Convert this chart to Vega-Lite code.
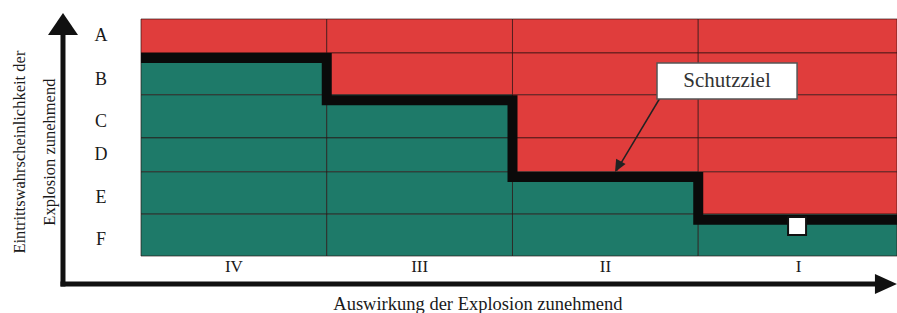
{
  "$schema": "https://vega.github.io/schema/vega-lite/v6.json",
  "width": 756,
  "height": 237,
  "autosize": {"type": "none"},
  "padding": {"left": 141, "top": 19, "right": 0, "bottom": 57},
  "background": "white",
  "config": {"view": {"stroke": null}},
  "datasets": {
    "cells": [
      {"spalte": "IV", "zeile": "A", "x": 0, "x2": 1, "y": 5.14, "y2": 6, "zone": "rot"},
      {"spalte": "IV", "zeile": "B", "x": 0, "x2": 1, "y": 4.08, "y2": 5.14, "zone": "grün"},
      {"spalte": "IV", "zeile": "C", "x": 0, "x2": 1, "y": 2.99, "y2": 4.08, "zone": "grün"},
      {"spalte": "IV", "zeile": "D", "x": 0, "x2": 1, "y": 2.13, "y2": 2.99, "zone": "grün"},
      {"spalte": "IV", "zeile": "E", "x": 0, "x2": 1, "y": 1.06, "y2": 2.13, "zone": "grün"},
      {"spalte": "IV", "zeile": "F", "x": 0, "x2": 1, "y": 0, "y2": 1.06, "zone": "grün"},
      {"spalte": "III", "zeile": "A", "x": 1, "x2": 2, "y": 5.14, "y2": 6, "zone": "rot"},
      {"spalte": "III", "zeile": "B", "x": 1, "x2": 2, "y": 4.08, "y2": 5.14, "zone": "rot"},
      {"spalte": "III", "zeile": "C", "x": 1, "x2": 2, "y": 2.99, "y2": 4.08, "zone": "grün"},
      {"spalte": "III", "zeile": "D", "x": 1, "x2": 2, "y": 2.13, "y2": 2.99, "zone": "grün"},
      {"spalte": "III", "zeile": "E", "x": 1, "x2": 2, "y": 1.06, "y2": 2.13, "zone": "grün"},
      {"spalte": "III", "zeile": "F", "x": 1, "x2": 2, "y": 0, "y2": 1.06, "zone": "grün"},
      {"spalte": "II", "zeile": "A", "x": 2, "x2": 3, "y": 5.14, "y2": 6, "zone": "rot"},
      {"spalte": "II", "zeile": "B", "x": 2, "x2": 3, "y": 4.08, "y2": 5.14, "zone": "rot"},
      {"spalte": "II", "zeile": "C", "x": 2, "x2": 3, "y": 2.99, "y2": 4.08, "zone": "rot"},
      {"spalte": "II", "zeile": "D", "x": 2, "x2": 3, "y": 2.13, "y2": 2.99, "zone": "rot"},
      {"spalte": "II", "zeile": "E", "x": 2, "x2": 3, "y": 1.06, "y2": 2.13, "zone": "grün"},
      {"spalte": "II", "zeile": "F", "x": 2, "x2": 3, "y": 0, "y2": 1.06, "zone": "grün"},
      {"spalte": "I", "zeile": "A", "x": 3, "x2": 4.07, "y": 5.14, "y2": 6, "zone": "rot"},
      {"spalte": "I", "zeile": "B", "x": 3, "x2": 4.07, "y": 4.08, "y2": 5.14, "zone": "rot"},
      {"spalte": "I", "zeile": "C", "x": 3, "x2": 4.07, "y": 2.99, "y2": 4.08, "zone": "rot"},
      {"spalte": "I", "zeile": "D", "x": 3, "x2": 4.07, "y": 2.13, "y2": 2.99, "zone": "rot"},
      {"spalte": "I", "zeile": "E", "x": 3, "x2": 4.07, "y": 1.06, "y2": 2.13, "zone": "rot"},
      {"spalte": "I", "zeile": "F", "x": 3, "x2": 4.07, "y": 0, "y2": 1.06, "zone": "grün"}
    ],
    "schutzziel": [
      {"i": 0, "x": 0, "y": 5.01},
      {"i": 1, "x": 1, "y": 5.01},
      {"i": 2, "x": 1, "y": 3.94},
      {"i": 3, "x": 2, "y": 3.94},
      {"i": 4, "x": 2, "y": 2.0},
      {"i": 5, "x": 3, "y": 2.0},
      {"i": 6, "x": 3, "y": 0.92},
      {"i": 7, "x": 4.07, "y": 0.92}
    ],
    "achsen": [
      {"achse": "y", "x": -0.42, "y": -0.71, "x2": -0.42, "y2": 5.75},
      {"achse": "x", "x": -0.42, "y": -0.71, "x2": 3.95, "y2": -0.71}
    ],
    "zeilen": [
      {"label": "A", "x": -0.215, "y": 5.57},
      {"label": "B", "x": -0.215, "y": 4.46},
      {"label": "C", "x": -0.215, "y": 3.39},
      {"label": "D", "x": -0.215, "y": 2.56},
      {"label": "E", "x": -0.215, "y": 1.47},
      {"label": "F", "x": -0.215, "y": 0.41}
    ],
    "spalten": [
      {"label": "IV", "x": 0.5, "y": -0.29},
      {"label": "III", "x": 1.5, "y": -0.29},
      {"label": "II", "x": 2.5, "y": -0.29},
      {"label": "I", "x": 3.54, "y": -0.29}
    ],
    "ytitel": [
      {"label": "Eintrittswahrscheinlichkeit der", "x": -0.651, "y": 2.63},
      {"label": "Explosion zunehmend", "x": -0.49, "y": 2.63}
    ],
    "xtitel": [
      {"label": "Auswirkung der Explosion zunehmend", "x": 1.814, "y": -1.215}
    ],
    "box": [
      {"x": 2.778, "x2": 3.532, "y": 4.886, "y2": 3.975, "label": "Schutzziel", "tx": 3.155, "ty": 4.43}
    ],
    "pfeil": [
      {"x": 2.794, "y": 4.0, "x2": 2.56, "y2": 2.16}
    ],
    "pfeilspitze": [
      {"x": 2.552, "y": 2.127}
    ],
    "punkt": [
      {"x": 3.532, "y": 0.759}
    ],
    "yspitze": [{"x": -0.42, "y": 5.772}],
    "xspitze": [{"x": 3.989, "y": -0.71}]
  },
  "encoding": {
    "x": {"field": "x", "type": "quantitative", "scale": {"domain": [0, 4.07], "zero": false, "nice": false}, "axis": null},
    "y": {"field": "y", "type": "quantitative", "scale": {"domain": [0, 6], "zero": false, "nice": false}, "axis": null}
  },
  "layer": [
    {
      "data": {"name": "cells"},
      "mark": {"type": "rect", "stroke": "#2a1010", "strokeWidth": 1, "strokeOpacity": 0.65},
      "encoding": {
        "x2": {"field": "x2"},
        "y2": {"field": "y2"},
        "color": {"field": "zone", "type": "nominal", "scale": {"domain": ["rot", "grün"], "range": ["#E03D3C", "#1E7A69"]}, "legend": null}
      }
    },
    {
      "data": {"name": "schutzziel"},
      "mark": {"type": "line", "color": "#0a0a0a", "strokeWidth": 10, "strokeJoin": "miter", "strokeCap": "butt"},
      "encoding": {"order": {"field": "i", "type": "quantitative"}}
    },
    {
      "data": {"name": "achsen"},
      "mark": {"type": "rule", "color": "#111111", "strokeWidth": 5, "strokeCap": "square"},
      "encoding": {"x2": {"field": "x2"}, "y2": {"field": "y2"}}
    },
    {
      "data": {"name": "yspitze"},
      "mark": {"type": "point", "shape": "M0,-1L1,0.4667L-1,0.4667Z", "size": 900, "filled": true, "color": "#111111", "opacity": 1, "strokeWidth": 0},
      "encoding": {}
    },
    {
      "data": {"name": "xspitze"},
      "mark": {"type": "point", "shape": "M1,0L-0.4667,-0.6667L-0.4667,0.6667Z", "size": 900, "filled": true, "color": "#111111", "opacity": 1, "strokeWidth": 0},
      "encoding": {}
    },
    {
      "data": {"name": "zeilen"},
      "mark": {"type": "text", "font": "Liberation Serif", "fontSize": 18, "color": "#1a1a1a", "align": "center", "baseline": "middle"},
      "encoding": {"text": {"field": "label"}}
    },
    {
      "data": {"name": "spalten"},
      "mark": {"type": "text", "font": "Liberation Serif", "fontSize": 17, "color": "#1a1a1a", "align": "center", "baseline": "middle"},
      "encoding": {"text": {"field": "label"}}
    },
    {
      "data": {"name": "ytitel"},
      "mark": {"type": "text", "font": "Liberation Serif", "fontSize": 16.5, "color": "#1a1a1a", "align": "center", "baseline": "middle", "angle": 270},
      "encoding": {"text": {"field": "label"}}
    },
    {
      "data": {"name": "xtitel"},
      "mark": {"type": "text", "font": "Liberation Serif", "fontSize": 18.5, "color": "#1a1a1a", "align": "center", "baseline": "middle"},
      "encoding": {"text": {"field": "label"}}
    },
    {
      "data": {"name": "pfeil"},
      "mark": {"type": "rule", "color": "#222222", "strokeWidth": 1.5},
      "encoding": {"x2": {"field": "x2"}, "y2": {"field": "y2"}}
    },
    {
      "data": {"name": "pfeilspitze"},
      "mark": {"type": "point", "shape": "M0,0L0.45,1L-0.45,1Z", "size": 576, "angle": 209, "filled": true, "color": "#222222", "opacity": 1, "strokeWidth": 0},
      "encoding": {}
    },
    {
      "data": {"name": "box"},
      "mark": {"type": "rect", "fill": "white", "stroke": "#555555", "strokeWidth": 1.5},
      "encoding": {"x2": {"field": "x2"}, "y2": {"field": "y2"}}
    },
    {
      "data": {"name": "box"},
      "mark": {"type": "text", "font": "Liberation Serif", "fontSize": 21, "color": "#333333", "align": "center", "baseline": "middle"},
      "encoding": {
        "x": {"field": "tx", "type": "quantitative"},
        "y": {"field": "ty", "type": "quantitative"},
        "text": {"field": "label"}
      }
    },
    {
      "data": {"name": "punkt"},
      "mark": {"type": "point", "shape": "square", "size": 324, "filled": true, "fill": "white", "stroke": "#111111", "strokeWidth": 2, "opacity": 1},
      "encoding": {}
    }
  ]
}
